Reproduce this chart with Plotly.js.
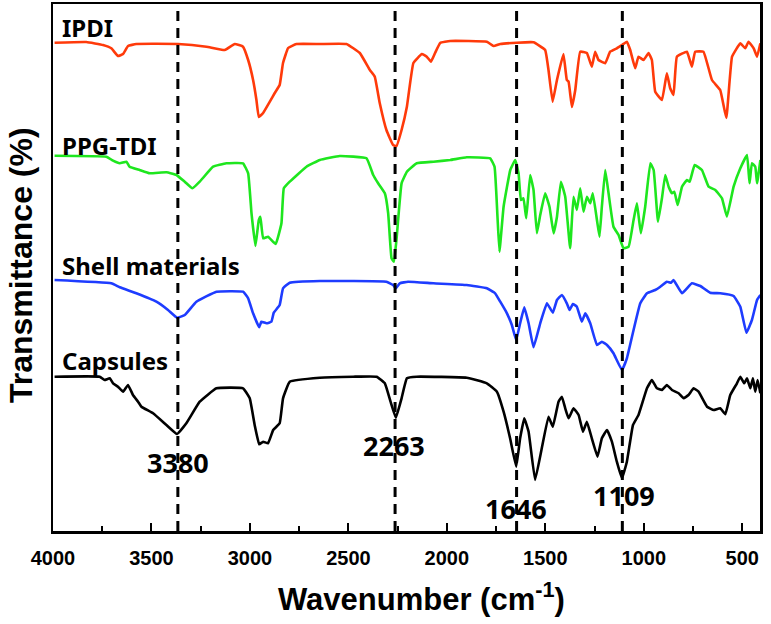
<!DOCTYPE html>
<html>
<head>
<meta charset="utf-8">
<script src="https://cdn.plot.ly/plotly-3.0.1.min.js"></script>
<style>
html,body{margin:0;padding:0;background:#fff;}
#chart{width:771px;height:624px;}
</style>
</head>
<body>
<div id="chart"></div>
<script>
// Wavenumbers (cm-1) and offset transmittance (arbitrary units)
const ipdiX = [3992,3831,3746,3704,3670,3644,3619,3577,3365,3221,3128,3077,3035,3009,2984,2967,2955,2933,2899,2874,2849,2832,2806,2764,2645,2510,2442,2391,2366,2341,2307,2273,2256,2230,2203,2170,2127,2102,2081,2060,2034,1983,1797,1763,1729,1645,1560,1501,1484,1463,1441,1408,1391,1382,1365,1348,1323,1289,1264,1247,1230,1196,1171,1137,1111,1086,1069,1044,1027,1001,976,959,942,908,883,866,849,832,781,756,739,697,654,612,581,552,510,485,468,442,425,408];
const ipdiY = [488.3,489,486,482.7,475,477,485,487,487,484.3,481,487,484.3,471,451,431,414,418,429.3,438,446,468,483,487,487,487,478,461,454.3,428,401,386,385,401,424.3,468,477,474.3,469.3,478,488,490,489.3,485,487,488.3,488.7,481,461,429.3,451,477,451,449.3,424,441,479.3,478,464.3,479.3,471,467.7,479.3,482.7,486,489.3,481,462.7,474.3,471,478,471,439.3,431,457.7,442.7,436,474.3,479.3,464.3,479.3,479.3,451,441,413,474.3,487.7,482.7,489.3,482.7,474.3,487.7];

const ppgX = [3992,3729,3695,3661,3627,3611,3560,3509,3424,3373,3331,3292,3255,3187,3120,3035,3009,2992,2972,2955,2947,2933,2908,2869,2840,2828,2798,2713,2645,2544,2408,2374,2349,2315,2298,2281,2269,2256,2230,2203,2153,2068,1983,1899,1780,1758,1743,1733,1712,1678,1653,1636,1624,1611,1597,1577,1560,1543,1526,1501,1479,1458,1441,1421,1399,1374,1357,1340,1323,1306,1289,1272,1259,1238,1225,1213,1196,1179,1154,1128,1103,1077,1052,1035,1015,993,967,950,928,908,891,874,857,845,828,806,781,767,742,705,671,637,603,578,544,510,476,463,451,434,425,408];
const ppgY = [375.3,374.3,370.3,367.7,369.3,364.3,361,357.7,358.7,356,349.3,342.7,349.3,364.3,367.7,367.7,357.7,317.7,285,311,314.3,292.7,294.3,287,307.7,342.7,349.3,364.3,371,375,372.7,356,347.7,337.7,317.7,272.7,269.3,291,347.7,359.3,367.7,369.3,371,373.7,372.7,364.3,314.3,279.3,324.3,361,371,357.7,331,332.7,312.7,356,341,297.7,316,337.7,324.3,297.7,314.3,349.3,334.3,282.7,334.3,321,342.7,319.3,334.3,327.7,337.7,311,294.3,324.3,361,337.7,304.3,296,282.7,284.3,311,327.7,297.7,324.3,367.7,361,309.3,332.7,356,344.3,337.7,339.3,326,344.3,351,349.3,366,361,344.3,341,332.7,314.3,344.3,362.7,376,347.7,367.7,364.3,347.7,371];

const shellX = [3992,3704,3661,3577,3475,3416,3370,3331,3272,3170,3035,3009,2984,2953,2942,2916,2891,2879,2849,2832,2798,2645,2307,2273,2259,2239,2197,2068,1899,1797,1755,1729,1695,1670,1648,1628,1607,1585,1560,1526,1492,1462,1441,1416,1391,1377,1360,1340,1315,1297,1272,1238,1213,1187,1154,1111,1086,1052,1018,984,942,916,883,862,849,806,756,713,663,612,544,510,479,451,425,408];
const shellY = [251,247.7,243.7,237.7,229.3,221,213.3,216,229.3,239.3,239.3,232.7,217.7,203.7,209.3,207.7,209.3,218.3,226,242.7,248.3,250,249.3,246,242.7,247.7,249.3,247.7,246,242.7,237.7,229.3,217.7,206,191,207.7,223.7,207.7,183.7,207.7,227.7,218.3,231,236,227.7,221,227,224.3,209.3,217.7,207.7,186,189.3,186,177.7,161,172.7,201,227.7,237.7,241,244.3,249.3,248.3,251,237.7,247.7,245,238.3,237.7,235,224.3,198.3,211,231,236];

const capX = [3992,3763,3738,3712,3695,3670,3644,3619,3594,3568,3551,3492,3424,3370,3323,3255,3170,3035,3001,2976,2953,2933,2908,2882,2849,2832,2798,2645,2476,2357,2315,2286,2259,2230,2203,2153,1899,1797,1746,1712,1679,1648,1628,1607,1585,1552,1518,1484,1462,1433,1416,1399,1382,1357,1331,1309,1289,1264,1235,1213,1187,1162,1137,1111,1086,1055,1027,984,959,933,908,883,857,823,798,773,747,722,679,645,612,586,561,527,510,490,476,459,446,434,422,408];
const capY = [154.3,154.3,151,152.7,147.7,144.3,139.3,146,136,129.3,124.3,117.7,106,97,107.7,129.3,142.7,142.7,132.7,106,86.7,89.3,87.7,101,107.7,132.7,149.3,153.3,154.3,154.3,147.7,129.3,113.3,132.7,152.7,154.3,153.3,147.7,139.3,119.3,92.7,64.3,92.7,112.7,99.3,51,82.7,114.3,104.3,129.3,134.3,122.7,112.7,122.7,116,99.3,109.3,92.7,74.3,92.7,101,89.3,69.3,52.7,69.3,106,116,142.7,151,142.7,141,146,141,137.7,132.7,136,142.7,139.3,124.3,121,122.7,116.7,136,147.7,154.3,147.7,152.7,142.7,152.7,139.3,151,137.7];

const seriesNames = ["IPDI","PPG-TDI","Shell materials","Capsules"];
const seriesColors = ["#ff3a0a","#1ee61e","#1e3cff","#000000"];
const seriesLabelY = [504,386,266,171];

const peakPositions = [3366,2263,1646,1109];
const peakLabels = ["3380","2263","1646","1109"];
const peakLabelX = [3365,2268,1648,1100];
const peakLabelY = [69,86,23,36];

const xTickVals = [4000,3500,3000,2500,2000,1500,1000,500];
const xTickText = ["4000","3500","3000","2500","2000","1500","1000","500"];

const xTitle = "Wavenumber (cm<sup>-1</sup>)";
const yTitle = "Transmittance (%)";

const xs = [ipdiX, ppgX, shellX, capX];
const ys = [ipdiY, ppgY, shellY, capY];

const traces = xs.map((x,i)=>({
  x: x, y: ys[i], type:'scatter', mode:'lines', name: seriesNames[i],
  line:{color: seriesColors[i], width:2.6, shape:'spline', smoothing:0.3},
  hoverinfo:'skip'
}));

const shapes = peakPositions.map(p=>({
  type:'line', xref:'x', yref:'paper', x0:p, x1:p, y0:0, y1:1,
  line:{color:'#000', width:3, dash:'10px,7px'}, layer:'above'
}));

const annotations = [];
seriesNames.forEach((n,i)=>annotations.push({
  x:3966, y:seriesLabelY[i], xref:'x', yref:'y', text:'<b>'+n+'</b>',
  showarrow:false, xanchor:'left', yanchor:'middle',
  font:{family:'Noto Sans, Open Sans, sans-serif', size:24, color:'#000'}
}));
peakLabels.forEach((t,i)=>annotations.push({
  x:peakLabelX[i], y:peakLabelY[i], xref:'x', yref:'y', text:'<b>'+t+'</b>',
  showarrow:false, xanchor:'center', yanchor:'middle',
  font:{family:'Noto Sans, Open Sans, sans-serif', size:27, color:'#000'}
}));
// axis titles placed as annotations for exact positioning
annotations.push({
  x:(421-53)/707, y:-(597-531)/527, xref:'paper', yref:'paper',
  text:'<b>'+xTitle+'</b>', showarrow:false, xanchor:'center', yanchor:'middle',
  font:{family:'Liberation Sans, Arial, sans-serif', size:31, color:'#000'}
});
annotations.push({
  x:(21-53)/707, y:(531-265)/527, xref:'paper', yref:'paper',
  text:'<b>'+yTitle+'</b>', textangle:-90, showarrow:false, xanchor:'center', yanchor:'middle',
  font:{family:'Liberation Sans, Arial, sans-serif', size:32, color:'#000'}
});

const layout = {
  width:771, height:624,
  margin:{l:53, r:11, t:4, b:93},
  paper_bgcolor:'#fff', plot_bgcolor:'#fff',
  showlegend:false,
  xaxis:{
    range:[4000,410], tickvals:xTickVals, ticktext:xTickText,
    ticks:'inside', ticklen:8, tickwidth:2, tickcolor:'#000',
    minor:{ticks:'inside', ticklen:5, tickwidth:2, dtick:250, tick0:0, tickcolor:'#000'},
    showline:true, mirror:true, linewidth:2.5, linecolor:'#000',
    showgrid:false, zeroline:false, ticklabelstandoff:7,
    tickfont:{family:'Liberation Sans, Arial, sans-serif', size:20, color:'#000', weight:700}
  },
  yaxis:{
    range:[0,527], showticklabels:false, ticks:'',
    showline:true, mirror:true, linewidth:2.5, linecolor:'#000',
    showgrid:false, zeroline:false
  },
  shapes:shapes,
  annotations:annotations
};

Plotly.newPlot('chart', traces, layout, {displayModeBar:false, staticPlot:true});
</script>
</body>
</html>
